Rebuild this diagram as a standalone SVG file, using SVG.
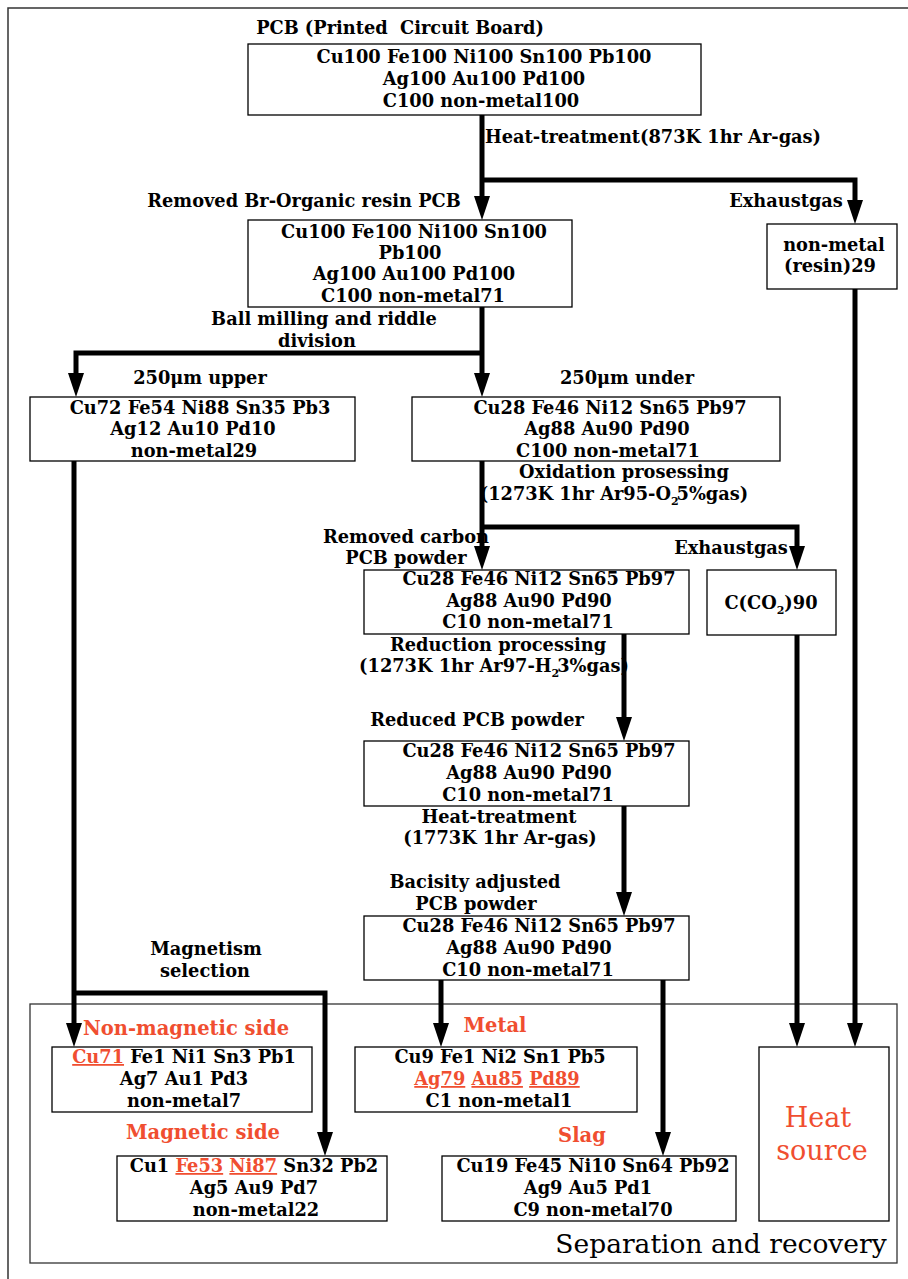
<svg xmlns="http://www.w3.org/2000/svg" width="908" height="1279" viewBox="0 0 908 1279">
<style>
.t{font-family:"DejaVu Serif","Liberation Serif",serif;font-weight:bold;font-size:17.8px;fill:#000;text-anchor:middle}
.r{fill:#f04e30}
.rl{font-family:"DejaVu Serif","Liberation Serif",serif;font-weight:bold;font-size:19.5px;fill:#f04e30;text-anchor:middle}
.u{text-decoration:underline}
.box{fill:#fff;stroke:#000;stroke-width:1.3}
.c{fill:none;stroke:#000;stroke-width:5;stroke-linejoin:miter}
.sub{font-size:11px}
.hs{font-family:"DejaVu Serif","Liberation Serif",serif;font-size:27px;fill:#f04e30;text-anchor:middle}
</style>
<defs>
<marker id="ah" viewBox="0 0 24 16" refX="1" refY="8" markerWidth="24" markerHeight="16" markerUnits="userSpaceOnUse" orient="auto">
<path d="M0,0 L24,8 L0,16 z" fill="#000"/>
</marker>
</defs>
<rect x="8" y="8" width="920" height="1290" fill="#fff" stroke="#333" stroke-width="1.5"/>
<g id="sep-frame">
<rect x="30" y="1004" width="867" height="259" fill="none" stroke="#333" stroke-width="1.3"/>
<text x="721" y="1253" style="font-family:'DejaVu Serif','Liberation Serif',serif;font-size:26.5px;fill:#000;text-anchor:middle">Separation and recovery</text>
</g>
<g id="connectors">
<path class="c" d="M482,115 V197" marker-end="url(#ah)"/>
<path class="c" d="M480,180 H855 V201" marker-end="url(#ah)"/>
<path class="c" d="M855,289 V1024" marker-end="url(#ah)"/>
<path class="c" d="M482,307 V374" marker-end="url(#ah)"/>
<path class="c" d="M484,353 H76 V374" marker-end="url(#ah)"/>
<path class="c" d="M74,461 V1024" marker-end="url(#ah)"/>
<path class="c" d="M72,993 H325 V1133" marker-end="url(#ah)"/>
<path class="c" d="M482,461 V547" marker-end="url(#ah)"/>
<path class="c" d="M480,527 H797 V547" marker-end="url(#ah)"/>
<path class="c" d="M624,634 V718" marker-end="url(#ah)"/>
<path class="c" d="M797,635 V1024" marker-end="url(#ah)"/>
<path class="c" d="M624,806 V893" marker-end="url(#ah)"/>
<path class="c" d="M441,980 V1024" marker-end="url(#ah)"/>
<path class="c" d="M663,980 V1133" marker-end="url(#ah)"/>
</g>
<g id="labels">
<text class="t" x="400" y="34" style="white-space:pre">PCB (Printed  Circuit Board)</text>
<text class="t" x="653" y="143">Heat-treatment(873K 1hr Ar-gas)</text>
<text class="t" x="304" y="207">Removed Br-Organic resin PCB</text>
<text class="t" x="786" y="207">Exhaustgas</text>
<text class="t" x="324" y="325">Ball milling and riddle</text>
<text class="t" x="317" y="347">division</text>
<text class="t" x="200" y="384">250μm upper</text>
<text class="t" x="627" y="384">250μm under</text>
<text class="t" x="624" y="478">Oxidation prosessing</text>
<text class="t" x="614" y="500">(1273K 1hr Ar95-O<tspan class="sub" dy="5">2</tspan><tspan dy="-5" dx="-2">5%gas)</tspan></text>
<text class="t" x="406" y="543">Removed carbon</text>
<text class="t" x="406" y="564">PCB powder</text>
<text class="t" x="731" y="554">Exhaustgas</text>
<text class="t" x="498" y="651">Reduction processing</text>
<text class="t" x="494" y="672">(1273K 1hr Ar97-H<tspan class="sub" dy="5">2</tspan><tspan dy="-5" dx="-2">3%gas)</tspan></text>
<text class="t" x="477" y="726">Reduced PCB powder</text>
<text class="t" x="499" y="823">Heat-treatment</text>
<text class="t" x="500" y="844">(1773K 1hr Ar-gas)</text>
<text class="t" x="475" y="888">Bacisity adjusted</text>
<text class="t" x="476" y="910">PCB powder</text>
<text class="t" x="206" y="955">Magnetism</text>
<text class="t" x="205" y="977">selection</text>
<text class="rl" x="186" y="1035">Non-magnetic side</text>
<text class="rl" x="495" y="1032">Metal</text>
<text class="rl" x="203" y="1139">Magnetic side</text>
<text class="rl" x="582" y="1142">Slag</text>
</g>
<g id="pcb">
<rect class="box" x="248" y="44" width="453" height="71"/>
<text class="t" x="484" y="63">Cu100 Fe100 Ni100 Sn100 Pb100</text>
<text class="t" x="484" y="85">Ag100 Au100 Pd100</text>
<text class="t" x="481" y="107">C100 non-metal100</text>
</g>
<g id="removed-br">
<rect class="box" x="248" y="220" width="324" height="87"/>
<text class="t" x="414" y="238">Cu100 Fe100 Ni100 Sn100</text>
<text class="t" x="410" y="259">Pb100</text>
<text class="t" x="414" y="280">Ag100 Au100 Pd100</text>
<text class="t" x="413" y="302">C100 non-metal71</text>
</g>
<g id="resin">
<rect class="box" x="767" y="224" width="130" height="65"/>
<text class="t" x="834" y="251">non-metal</text>
<text class="t" x="830" y="272">(resin)29</text>
</g>
<g id="upper">
<rect class="box" x="30" y="397" width="325" height="64"/>
<text class="t" x="200" y="414">Cu72 Fe54 Ni88 Sn35 Pb3</text>
<text class="t" x="193" y="435">Ag12 Au10 Pd10</text>
<text class="t" x="194" y="457">non-metal29</text>
</g>
<g id="under">
<rect class="box" x="412" y="397" width="368" height="64"/>
<text class="t" x="610" y="414">Cu28 Fe46 Ni12 Sn65 Pb97</text>
<text class="t" x="607" y="435">Ag88 Au90 Pd90</text>
<text class="t" x="608" y="457">C100 non-metal71</text>
</g>
<g id="removed-carbon">
<rect class="box" x="364" y="570" width="325" height="64"/>
<text class="t" x="539" y="585">Cu28 Fe46 Ni12 Sn65 Pb97</text>
<text class="t" x="529" y="607">Ag88 Au90 Pd90</text>
<text class="t" x="528" y="628">C10 non-metal71</text>
</g>
<g id="co2">
<rect class="box" x="707" y="570" width="129" height="65"/>
<text class="t" x="771" y="609">C(CO<tspan class="sub" dy="5">2</tspan><tspan dy="-5">)90</tspan></text>
</g>
<g id="reduced">
<rect class="box" x="364" y="741" width="325" height="65"/>
<text class="t" x="539" y="757">Cu28 Fe46 Ni12 Sn65 Pb97</text>
<text class="t" x="529" y="779">Ag88 Au90 Pd90</text>
<text class="t" x="528" y="801">C10 non-metal71</text>
</g>
<g id="bacisity">
<rect class="box" x="364" y="916" width="325" height="64"/>
<text class="t" x="539" y="932">Cu28 Fe46 Ni12 Sn65 Pb97</text>
<text class="t" x="529" y="954">Ag88 Au90 Pd90</text>
<text class="t" x="528" y="976">C10 non-metal71</text>
</g>
<g id="non-magnetic">
<rect class="box" x="52" y="1047" width="260" height="65"/>
<text class="t" x="184" y="1063"><tspan class="r u">Cu71</tspan> Fe1 Ni1 Sn3 Pb1</text>
<text class="t" x="184" y="1085">Ag7 Au1 Pd3</text>
<text class="t" x="184" y="1107">non-metal7</text>
</g>
<g id="metal">
<rect class="box" x="355" y="1047" width="282" height="65"/>
<text class="t" x="500" y="1063">Cu9 Fe1 Ni2 Sn1 Pb5</text>
<text class="t" x="497" y="1085"><tspan class="r u">Ag79</tspan><tspan class="r"> </tspan><tspan class="r u">Au85</tspan><tspan class="r"> </tspan><tspan class="r u">Pd89</tspan></text>
<text class="t" x="499" y="1107">C1 non-metal1</text>
</g>
<g id="magnetic">
<rect class="box" x="117" y="1156" width="270" height="65"/>
<text class="t" x="254" y="1172">Cu1 <tspan class="r u">Fe53</tspan> <tspan class="r u">Ni87</tspan> Sn32 Pb2</text>
<text class="t" x="254" y="1194">Ag5 Au9 Pd7</text>
<text class="t" x="256" y="1216">non-metal22</text>
</g>
<g id="slag">
<rect class="box" x="442" y="1156" width="294" height="65"/>
<text class="t" x="593" y="1172">Cu19 Fe45 Ni10 Sn64 Pb92</text>
<text class="t" x="588" y="1194">Ag9 Au5 Pd1</text>
<text class="t" x="593" y="1216">C9 non-metal70</text>
</g>
<g id="heat-source">
<rect class="box" x="759" y="1047" width="130" height="174"/>
<text class="hs" x="818" y="1127">Heat</text>
<text class="hs" x="822" y="1160">source</text>
</g>
</svg>
